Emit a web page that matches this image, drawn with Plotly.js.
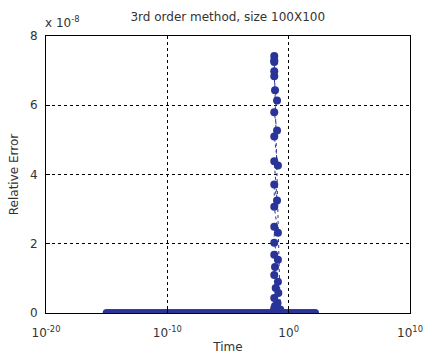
<!DOCTYPE html>
<html>
<head>
<meta charset="utf-8">
<script src="https://cdn.plot.ly/plotly-3.0.1.min.js"></script>
<style>html,body{margin:0;padding:0;background:#fff;}#plot{width:438px;height:363px;}</style>
</head>
<body>
<div id="plot"></div>
<script>
// Time samples where the relative error is (visually) zero, before the spike
const timesBefore = [
  1e-15, 1.8e-15, 3.2e-15, 5.6e-15, 1e-14, 1.8e-14, 3.2e-14, 5.6e-14,
  1e-13, 1.8e-13, 3.2e-13, 5.6e-13, 1e-12, 1.8e-12, 3.2e-12, 5.6e-12,
  1e-11, 1.8e-11, 3.2e-11, 5.6e-11, 1e-10, 1.8e-10, 3.2e-10, 5.6e-10,
  1e-9, 1.8e-9, 3.2e-9, 5.6e-9, 1e-8, 1.8e-8, 3.2e-8, 5.6e-8,
  1e-7, 1.8e-7, 3.2e-7, 5.6e-7, 1e-6, 1.8e-6, 3.2e-6, 5.6e-6,
  1e-5, 1.8e-5, 3.2e-5, 5.6e-5, 1e-4, 1.8e-4, 3.2e-4, 5.6e-4,
  1e-3, 1.8e-3, 3.2e-3, 5.6e-3, 1e-2, 1.8e-2, 3.2e-2, 5.0e-2];
const errorsBefore = [
  0,0,0,0,0,0,0,0, 0,0,0,0,0,0,0,0, 0,0,0,0,0,0,0,0, 0,0,0,0,0,0,0,0,
  0,0,0,0,0,0,0,0, 0,0,0,0,0,0,0,0, 0,0,0,0,0,0,0,0];

// Spike region (times near 0.06 - 0.25)
const timesSpike = [0.06, 0.075, 0.065, 0.12, 0.065, 0.14, 0.085, 0.13, 0.065, 0.075,
  0.065, 0.13, 0.065, 0.065, 0.13, 0.065, 0.065, 0.11, 0.065, 0.13, 0.065, 0.11,
  0.065, 0.11, 0.075, 0.065, 0.065, 0.065, 0.065, 0.065, 0.2, 0.25];
const errorsSpike = [0.05e-8, 0.2e-8, 0.14e-8, 0.29e-8, 0.43e-8, 0.58e-8, 0.72e-8, 0.90e-8, 1.10e-8, 1.33e-8,
  1.68e-8, 1.54e-8, 2.03e-8, 2.49e-8, 2.32e-8, 3.07e-8, 3.71e-8, 3.25e-8, 4.38e-8, 4.26e-8, 5.10e-8, 5.27e-8,
  5.80e-8, 6.14e-8, 6.43e-8, 6.84e-8, 6.98e-8, 7.25e-8, 7.42e-8, 7.30e-8, 0.1e-8, 0.03e-8];

// After the spike
const timesAfter = [0.32, 0.56, 1, 1.8, 3.2, 5.6, 10, 18, 32, 56, 100, 150];
const errorsAfter = [0,0,0,0,0,0,0,0,0,0,0,0];

const xTickVals = [1e-20, 1e-10, 1, 1e10];
const xTickText = ['10<sup>-20</sup>', '10<sup>-10</sup>', '10<sup>0</sup>', '10<sup>10</sup>'];
const yTickVals = [0, 2e-8, 4e-8, 6e-8, 8e-8];
const yTickText = ['0', '2', '4', '6', '8'];

const xs = timesBefore.concat(timesSpike, timesAfter);
const ys = errorsBefore.concat(errorsSpike, errorsAfter);

const blue = 'rgb(42,52,152)';
const font = {family: 'DejaVu Sans, sans-serif', size: 11, color: '#333'};
const titleFont = {family: 'DejaVu Sans, sans-serif', size: 12, color: '#333'};

const trace = {
  x: xs, y: ys, type: 'scatter', mode: 'lines+markers',
  line: {color: blue, width: 1, dash: 'dot'},
  marker: {color: blue, size: 8},
  hoverinfo: 'skip'
};

const layout = {
  width: 438, height: 363,
  margin: {l: 46, r: 28, t: 36, b: 50},
  paper_bgcolor: '#fff', plot_bgcolor: '#fff',
  showlegend: false,
  font: font,
  title: {text: '3rd order method, size 100X100', x: 0.52, xanchor: 'center', y: 0.955, yanchor: 'middle', font: titleFont},
  xaxis: {
    type: 'log', range: [-20, 10], tickvals: xTickVals, ticktext: xTickText,
    showline: true, mirror: true, linecolor: '#000', linewidth: 1,
    ticks: 'inside', ticklen: 4, tickcolor: '#000',
    showgrid: true, gridcolor: '#000', griddash: 'dot', gridwidth: 1,
    zeroline: false, tickfont: titleFont, ticklabelstandoff: 9,
    title: {text: 'Time', font: titleFont, standoff: 3}
  },
  yaxis: {
    range: [0, 8e-8], tickvals: yTickVals, ticktext: yTickText,
    showline: true, mirror: true, linecolor: '#000', linewidth: 1,
    ticks: 'inside', ticklen: 4, tickcolor: '#000',
    showgrid: true, gridcolor: '#000', griddash: 'dot', gridwidth: 1,
    zeroline: false, tickfont: titleFont, ticklabelstandoff: 5,
    title: {text: 'Relative Error', font: titleFont, standoff: 8}
  },
  annotations: [{
    text: 'x 10<sup>-8</sup>', xref: 'paper', yref: 'paper', x: 0, y: 1,
    xanchor: 'left', yanchor: 'bottom', xshift: -3, yshift: 4, showarrow: false, font: titleFont
  }]
};

Plotly.newPlot('plot', [trace], layout, {displayModeBar: false, staticPlot: true});
</script>
</body>
</html>
